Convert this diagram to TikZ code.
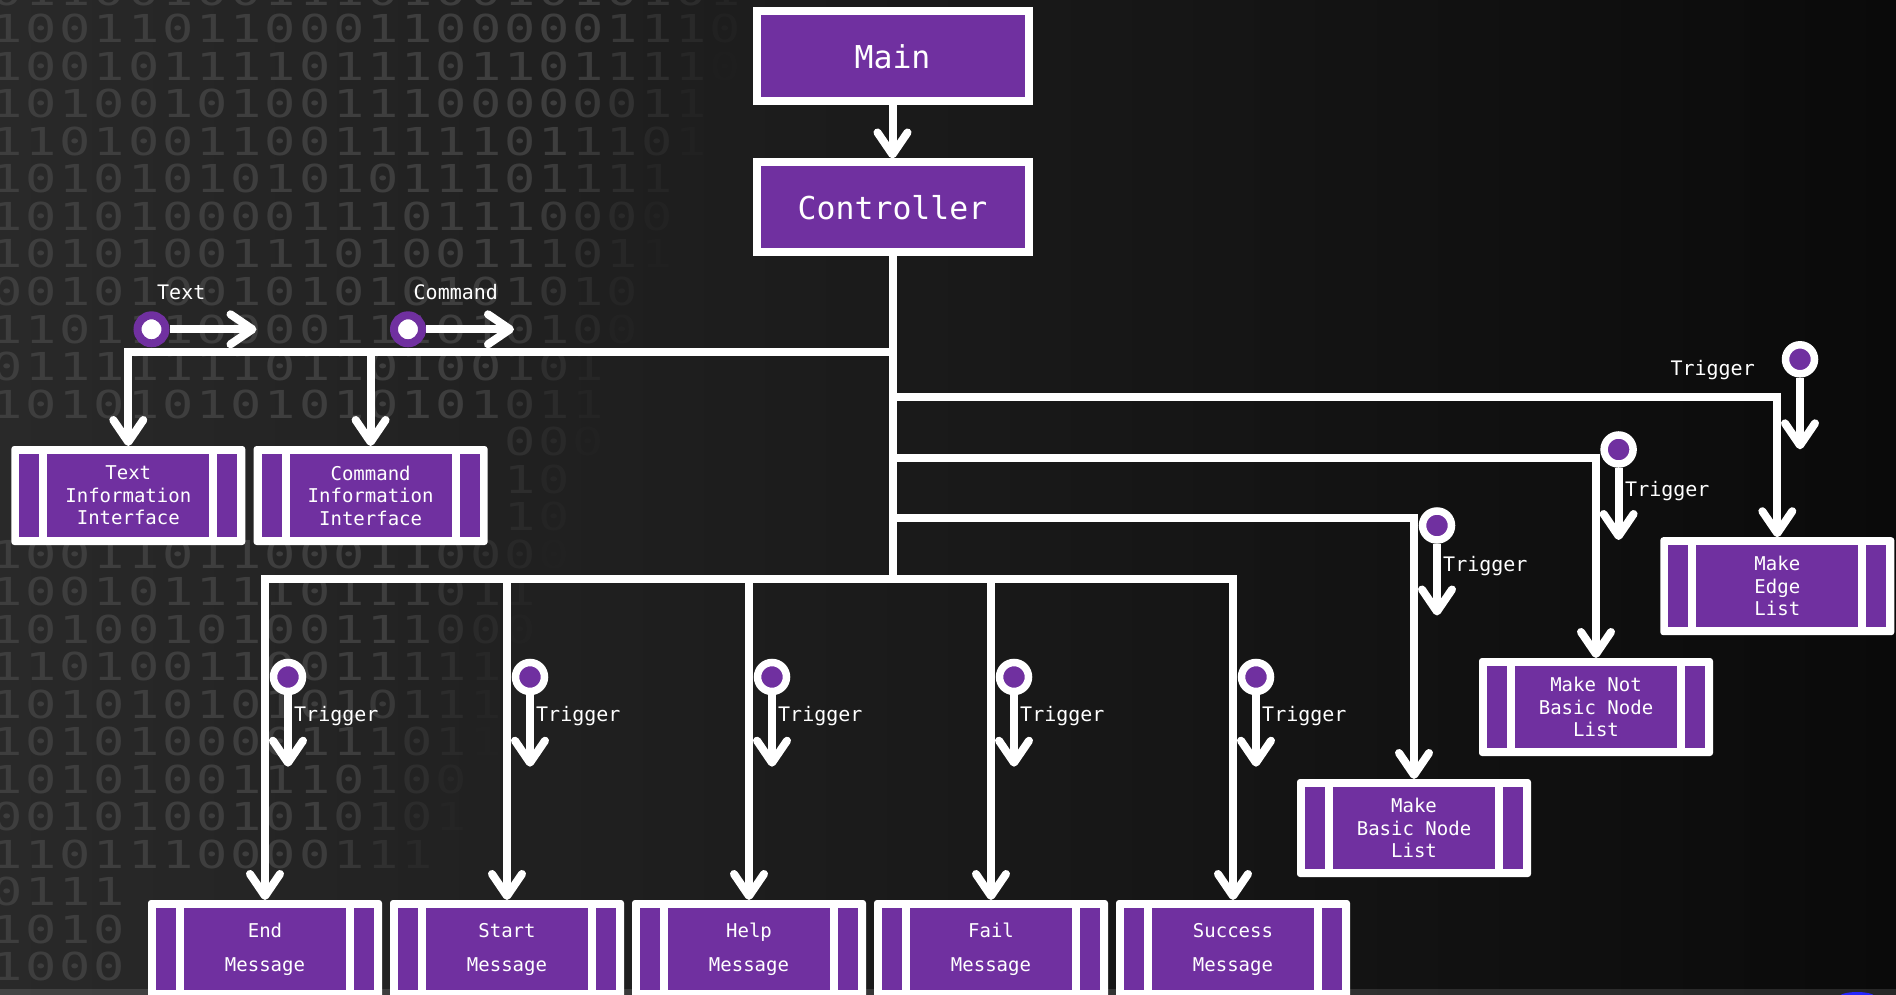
\documentclass[tikz,border=0pt]{standalone}
\usepackage{fontspec}
\usepackage{graphicx}
\newfontfamily\dmono{DejaVu Sans Mono}
\usetikzlibrary{arrows.meta}
\definecolor{purp}{HTML}{7030A0}
\definecolor{bgL}{HTML}{292929}
\definecolor{bgM}{HTML}{1E1E1E}
\definecolor{bgR}{HTML}{0A0A0A}
\definecolor{digitc}{HTML}{3E3E3E}

\expandafter\def\csname R0\endcsname{1001101100011000001110}
\expandafter\def\csname R1\endcsname{1001011110111011011110}
\expandafter\def\csname R2\endcsname{1010010100111000000110}
\expandafter\def\csname R3\endcsname{1101001100111110111010}
\expandafter\def\csname R4\endcsname{1010101010101110111100}
\expandafter\def\csname R5\endcsname{1010100001110111000000}
\expandafter\def\csname R6\endcsname{1010100111010011101100}
\expandafter\def\csname R7\endcsname{0010100101010101010100}
\expandafter\def\csname R8\endcsname{1101110000111010100110}
\expandafter\def\csname R9\endcsname{0111111101101001010011}
\expandafter\def\csname R10\endcsname{1010101010101010111010}
\expandafter\def\csname R11\endcsname{1000111100001110001010}
\expandafter\def\csname R12\endcsname{1001101001110011001011}
\expandafter\def\csname R13\endcsname{0110010011101001010101}

\newcommand\binrowat[2]{\def\by{#1}\def\bj{0}\edef\bstr{#2}\expandafter\binloop\bstr\relax}
\def\binloop#1{%
  \ifx#1\relax\else
    \pgfmathsetmacro\bx{7+34.2*\bj}%
    \pgfmathsetmacro\bop{max(0,min(1,(760-0.35*\by-\bx)/150))}%
    \pgfmathtruncatemacro\bhide{((\by>446)&&(\by<560)&&(\bx<500)) || ((\by>900)&&(\bx>135))}%
    \ifnum\bhide=0
      \ifdim\bop pt>0pt
        \node[bindig, text opacity=\bop] at (\bx,\by) {\scalebox{1.35}[1]{#1}};%
      \fi
    \fi
    \pgfmathsetmacro\bj{\bj+1}%
    \expandafter\binloop
  \fi}

\begin{document}
\begin{tikzpicture}[x=1pt,y=-1pt,
  conn/.style={draw=white, line width=8pt},
  arr/.style={conn, -{Straight Barb[round,length=22pt,width=30pt]}},
  topbox/.style={rectangle, fill=purp, draw=white, line width=8pt, minimum width=272pt, minimum height=90pt, inner sep=0pt, text=white, font=\dmono\fontsize{31.5}{36}\selectfont},
  procbase/.style={rectangle, rounded corners=3pt, fill=white, inner sep=0pt, outer sep=0pt, align=center, text=white,
    path picture={
      \fill[purp, sharp corners] ([xshift=8pt,yshift=8pt]path picture bounding box.south west) rectangle ([xshift=28pt,yshift=-8pt]path picture bounding box.north west);
      \fill[purp, sharp corners] ([xshift=36pt,yshift=8pt]path picture bounding box.south west) rectangle ([xshift=-36pt,yshift=-8pt]path picture bounding box.north east);
      \fill[purp, sharp corners] ([xshift=-28pt,yshift=8pt]path picture bounding box.south east) rectangle ([xshift=-8pt,yshift=-8pt]path picture bounding box.north east);
    }},
  proc/.style={procbase, minimum width=234pt, minimum height=98pt, font=\dmono\fontsize{19}{22.5}\selectfont},
  procm/.style={procbase, minimum width=234pt, minimum height=98pt, font=\dmono\fontsize{19}{34}\selectfont},
  dotin/.style={circle, draw=purp, fill=white, line width=8pt, minimum size=28pt, inner sep=0pt},
  trig/.style={circle, draw=white, fill=purp, line width=7.5pt, minimum size=29pt, inner sep=0pt},
  lbl/.style={text=white, inner sep=0pt, font=\dmono\fontsize{20}{24}\selectfont},
  bindig/.style={text=digitc, inner sep=0pt, anchor=base, font=\dmono\fontsize{38.5}{40}\selectfont},
]
\useasboundingbox (0,0) rectangle (1896,995);
% background
\shade[left color=bgL, middle color=bgM, right color=bgR] (0,0) rectangle (1896,995);
\foreach \k in {0,...,26}{%
  \pgfmathsetmacro\yy{43+37.5*(\k-1)}%
  \pgfmathtruncatemacro\rr{mod(\k+13,14)}%
  \binrowat{\yy}{\csname R\rr\endcsname}%
}
\fill[white, opacity=0.12] (0,989) rectangle (1896,995);
\fill[blue!85!white] (1857,997) ellipse (18pt and 5pt);

% top boxes
\node[topbox] (main) at (892.5,56.3) {Main};
\node[topbox] (ctrl) at (892.5,207.5) {Controller};

% left interface boxes
\node[proc, minimum height=99pt] (tii) at (128.3,495.5) {Text\\Information\\Interface};
\node[proc, minimum height=99pt] (cii) at (370.6,495.5) {Command\\Information\\Interface};

% right list boxes
\node[proc] (mel) at (1777.3,586.2) {Make\\Edge\\List};
\node[proc] (mnb) at (1596,707) {Make Not\\Basic Node\\List};
\node[proc] (mbn) at (1414,828) {Make\\Basic Node\\List};

% bottom message boxes
\node[procm] (endm) at (265,949) {End\\Message};
\node[procm] (startm) at (507,949) {Start\\Message};
\node[procm] (helpm) at (749,949) {Help\\Message};
\node[procm] (failm) at (991,949) {Fail\\Message};
\node[procm] (succm) at (1233,949) {Success\\Message};

% junctions
\coordinate (jt) at (892.5,352);
\coordinate (j1) at (892.5,397);
\coordinate (j2) at (892.5,457.5);
\coordinate (j3) at (892.5,518);
\coordinate (jb) at (892.5,578.5);

% connectors
\draw[arr] (main) -- (ctrl);
\draw[conn] (ctrl) -- (jb);
\draw[arr] (jt) -| (tii.north);
\draw[arr] (jt) -| (cii.north);
\draw[arr] (j1) -| (mel.north);
\draw[arr] (j2) -| (mnb.north);
\draw[arr] (j3) -| (mbn.north);
\draw[arr] (jb) -| (endm.north);
\draw[arr] (jb) -| (startm.north);
\draw[arr] (jb) -| (helpm.north);
\draw[arr] (jb) -| (failm.north);
\draw[arr] (jb) -| (succm.north);

% data flows Text / Command
\node[dotin] (tc) at (151.5,329.3) {};
\coordinate (tce) at (256.5,329.3);
\draw[arr] (tc) -- (tce);
\node[lbl, anchor=base west] (tcl) at (157,299.5) {Text};
\node[dotin] (cc) at (408,329.3) {};
\coordinate (cce) at (514,329.3);
\draw[arr] (cc) -- (cce);
\node[lbl, anchor=base west] (ccl) at (413.5,299.5) {Command};

% triggers on the right
\node[trig] (t1) at (1800,359.3) {};
\coordinate (t1e) at (1800,449.3);
\draw[arr] (t1) -- (t1e);
\node[lbl, anchor=base east] (t1l) at (1755,375) {Trigger};
\node[trig] (t2) at (1618.6,449.5) {};
\coordinate (t2e) at (1618.6,540);
\draw[arr] (t2) -- (t2e);
\node[lbl, anchor=base west] (t2l) at (1625,496) {Trigger};
\node[trig] (t3) at (1437,525.5) {};
\coordinate (t3e) at (1437,615.5);
\draw[arr] (t3) -- (t3e);
\node[lbl, anchor=base west] (t3l) at (1443,571.7) {Trigger};

% triggers on the messages
\foreach \mx/\nm in {265/a,507/b,749/c,991/d,1233/e}{%
  \node[trig] (tb\nm) at (\mx+23,677) {};
  \coordinate (tbe\nm) at (\mx+23,766.7);
  \draw[arr] (tb\nm) -- (tbe\nm);
  \node[lbl, anchor=base west] (tbl\nm) at (\mx+29,721.7) {Trigger};
}
\end{tikzpicture}
\end{document}
